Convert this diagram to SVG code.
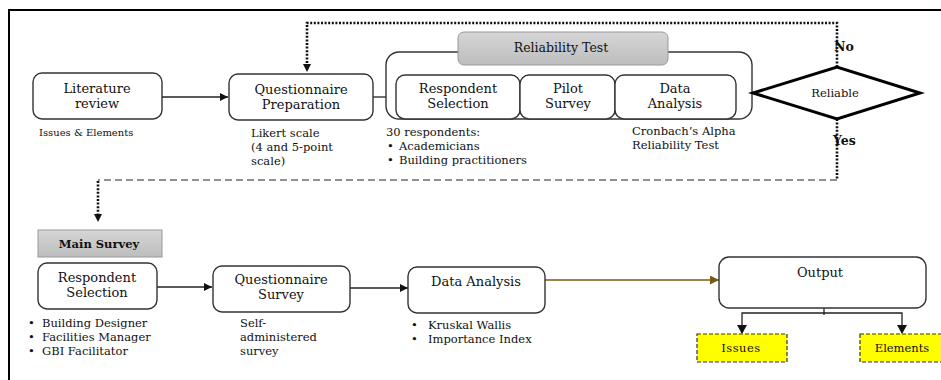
<svg xmlns="http://www.w3.org/2000/svg" width="941" height="380" viewBox="0 0 941 380" font-family="'DejaVu Serif', serif">
  <style>
    text { font-family: "DejaVu Serif", "Liberation Serif", serif; fill: #111; }
    .box { fill: #fff; stroke: #333; stroke-width: 1.4; }
    .lbl { font-size: 13px; text-anchor: middle; }
    .note { font-size: 11.5px; }
    .small { font-size: 10px; }
    .line { fill: none; stroke: #222; stroke-width: 1.3; }
    .dot { fill: none; stroke: #111; stroke-width: 2.6; stroke-dasharray: 2 1.6; }
    .dash { fill: none; stroke: #222; stroke-width: 1.2; stroke-dasharray: 7 4; }
    .tag { stroke: #999; stroke-width: 1; }
    .out { fill: #ffff00; stroke: #333; stroke-width: 1.2; stroke-dasharray: 4 2; }
  </style>
  <defs>
    <linearGradient id="grey" x1="0" y1="0" x2="0" y2="1">
      <stop offset="0" stop-color="#d6d6d6"/>
      <stop offset="1" stop-color="#bdbdbd"/>
    </linearGradient>
    <marker id="arr" viewBox="0 0 10 10" refX="10" refY="5" markerWidth="8" markerHeight="8" markerUnits="userSpaceOnUse" orient="auto">
      <path d="M0,0 L10,5 L0,10 Z" fill="#111"/>
    </marker>
    <marker id="arrBrown" viewBox="0 0 10 10" refX="10" refY="5" markerWidth="9" markerHeight="9" markerUnits="userSpaceOnUse" orient="auto">
      <path d="M0,0 L10,5 L0,10 Z" fill="#7a5a10"/>
    </marker>
  </defs>

  <!-- frame -->
  <path d="M9,380 V10 H941" fill="none" stroke="#000" stroke-width="2"/>

  <!-- connectors -->
  <g id="connectors">
    <line class="line" x1="162" y1="97" x2="228" y2="97" marker-end="url(#arr)"/>
    <line class="line" x1="373" y1="97" x2="396" y2="97" marker-end="url(#arr)"/>
    <line class="line" x1="736" y1="93" x2="753" y2="93"/>
    <!-- No: back to questionnaire preparation -->
    <path class="dot" d="M837,67 V23 H307 V64"/>
    <path d="M303,64 L311,64 L307,72 Z" fill="#111"/>
    <!-- Yes: down to main survey -->
    <path class="dot" d="M837,119 V180"/>
    <path class="dash" d="M837,180 H98"/>
    <path class="dot" d="M98,181 V214"/>
    <path d="M94,214 L102,214 L98,222 Z" fill="#111"/>
    <!-- main survey row -->
    <line class="line" x1="157" y1="287" x2="212" y2="287" marker-end="url(#arr)"/>
    <line class="line" x1="350" y1="288" x2="408" y2="288" marker-end="url(#arr)"/>
    <line x1="545" y1="280" x2="719" y2="280" stroke="#7a5a10" stroke-width="1.3" marker-end="url(#arrBrown)"/>
    <!-- output split -->
    <line class="line" x1="824" y1="302" x2="824" y2="315"/>
    <path class="line" d="M742,333 V313 H902 V333"/>
    <path d="M737,325 L747,325 L742,334 Z" fill="#111"/>
    <path d="M897,325 L907,325 L902,334 Z" fill="#111"/>
  </g>

  <!-- top row -->
  <g id="literature-review">
    <rect class="box" x="33" y="73" width="129" height="46" rx="9"/>
    <text class="lbl" x="97" y="93">Literature</text>
    <text class="lbl" x="97" y="108">review</text>
    <text class="small" x="39" y="136">Issues &amp; Elements</text>
  </g>

  <g id="questionnaire-preparation">
    <rect class="box" x="229" y="74" width="144" height="46" rx="9"/>
    <text class="lbl" x="301" y="94">Questionnaire</text>
    <text class="lbl" x="301" y="109">Preparation</text>
    <text class="note" x="251" y="137">Likert scale</text>
    <text class="note" x="251" y="151">(4 and 5-point</text>
    <text class="note" x="251" y="165">scale)</text>
  </g>

  <g id="reliability-test">
    <rect class="box" x="386" y="52" width="366" height="67" rx="13"/>
    <rect x="458" y="32" width="210" height="33" rx="6" fill="url(#grey)" class="tag"/>
    <text x="561" y="52" font-size="12.5" text-anchor="middle">Reliability  Test</text>
  </g>

  <g id="respondent-selection-pilot">
    <rect class="box" x="396" y="75" width="124" height="44" rx="9"/>
    <text class="lbl" x="458" y="93">Respondent</text>
    <text class="lbl" x="458" y="108">Selection</text>
    <text class="note" x="386" y="136">30 respondents:</text>
    <text class="note" x="387" y="150">•</text>
    <text class="note" x="399" y="150">Academicians</text>
    <text class="note" x="387" y="164">•</text>
    <text class="note" x="399" y="164">Building practitioners</text>
  </g>

  <g id="pilot-survey">
    <rect class="box" x="520" y="75" width="95" height="44" rx="9"/>
    <text class="lbl" x="568" y="93">Pilot</text>
    <text class="lbl" x="568" y="108">Survey</text>
  </g>

  <g id="data-analysis-pilot">
    <rect class="box" x="615" y="75" width="121" height="44" rx="9"/>
    <text class="lbl" x="675" y="93">Data</text>
    <text class="lbl" x="675" y="108">Analysis</text>
    <text class="note" x="632" y="135">Cronbach’s Alpha</text>
    <text class="note" x="632" y="149">Reliability Test</text>
  </g>

  <g id="reliable">
    <polygon points="753,93 837,67 920,93 837,119" fill="#fff" stroke="#000" stroke-width="3" stroke-linejoin="miter"/>
    <text x="835" y="97" font-size="11.5" text-anchor="middle">Reliable</text>
    <text x="834" y="51" font-size="12.5" font-weight="bold">No</text>
    <text x="833" y="145" font-size="12.5" font-weight="bold">Yes</text>
  </g>

  <!-- main survey row -->
  <g id="main-survey">
    <rect x="38" y="230" width="124" height="27" fill="url(#grey)" class="tag"/>
    <text x="99" y="248" font-size="11.5" font-weight="bold" text-anchor="middle">Main Survey</text>
  </g>

  <g id="respondent-selection-main">
    <rect class="box" x="38" y="263" width="119" height="46" rx="9"/>
    <text class="lbl" x="97" y="282">Respondent</text>
    <text class="lbl" x="97" y="297">Selection</text>
    <text class="note" x="28" y="327">•</text>
    <text class="note" x="42" y="327">Building Designer</text>
    <text class="note" x="28" y="341">•</text>
    <text class="note" x="42" y="341">Facilities Manager</text>
    <text class="note" x="28" y="355">•</text>
    <text class="note" x="42" y="355">GBI Facilitator</text>
  </g>

  <g id="questionnaire-survey">
    <rect class="box" x="213" y="266" width="137" height="46" rx="9"/>
    <text class="lbl" x="281" y="284">Questionnaire</text>
    <text class="lbl" x="281" y="299">Survey</text>
    <text class="note" x="240" y="327">Self-</text>
    <text class="note" x="240" y="341">administered</text>
    <text class="note" x="240" y="355">survey</text>
  </g>

  <g id="data-analysis-main">
    <rect class="box" x="408" y="267" width="137" height="46" rx="9"/>
    <text class="lbl" x="476" y="286">Data Analysis</text>
    <text class="note" x="411" y="329">•</text>
    <text class="note" x="428" y="329">Kruskal Wallis</text>
    <text class="note" x="411" y="343">•</text>
    <text class="note" x="428" y="343">Importance Index</text>
  </g>

  <g id="output">
    <rect class="box" x="719" y="257" width="207" height="51" rx="10"/>
    <text class="lbl" x="820" y="277">Output</text>
  </g>

  <g id="issues">
    <rect class="out" x="697" y="334" width="90" height="28"/>
    <text x="741" y="352" font-size="11.5" letter-spacing="0.5" text-anchor="middle">Issues</text>
  </g>

  <g id="elements">
    <rect class="out" x="860" y="334" width="82" height="28"/>
    <text x="902" y="352" font-size="11.5" text-anchor="middle">Elements</text>
  </g>
</svg>
